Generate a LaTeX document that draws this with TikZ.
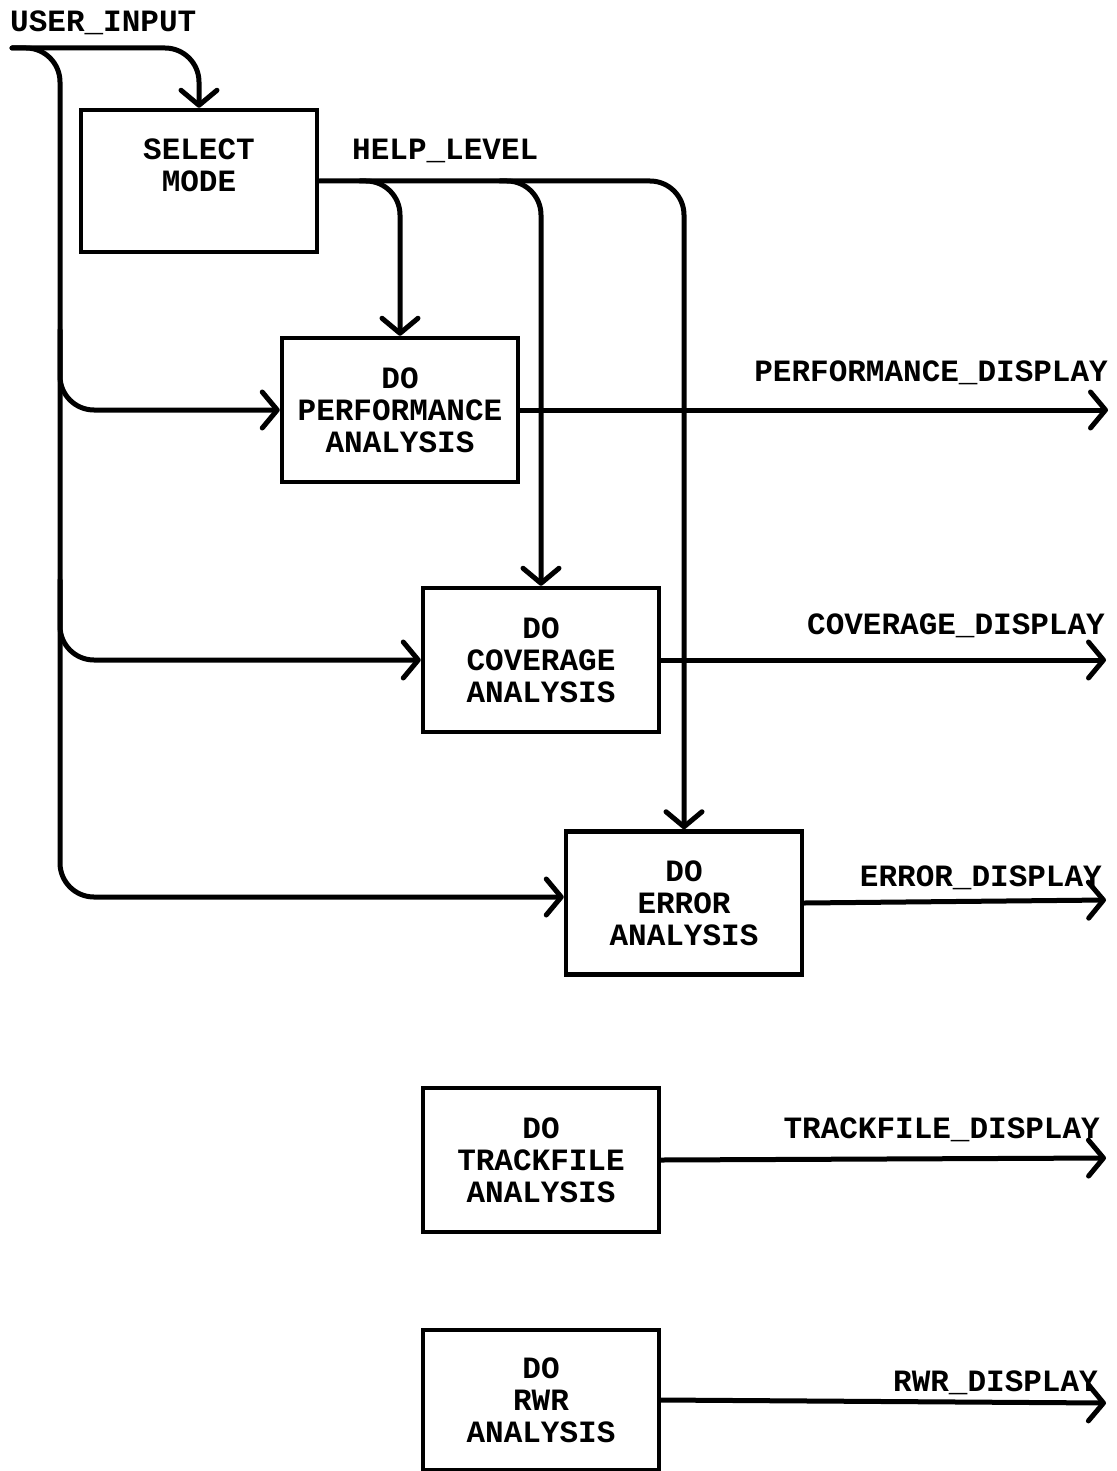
\documentclass[tikz,border=0pt]{standalone}
\usepackage{fontspec}
\setmonofont{Liberation Mono}
\usetikzlibrary{arrows.meta}
\begin{document}
\begin{tikzpicture}[x=1pt,y=-1pt,
  every node/.style={font=\ttfamily\bfseries\fontsize{31}{32}\selectfont},
  box/.style={draw, line width=4.5pt, minimum width=236pt, align=center, inner sep=0pt},
  flow/.style={line width=5pt, line cap=round, rounded corners=34pt,
     -{Straight Barb[length=15pt,width=36pt,line width=5pt,round]}},
  wire/.style={line width=5pt, line cap=round, rounded corners=34pt},
  lbl/.style={inner sep=0pt}]
\useasboundingbox (0,0) rectangle (1116,1471);

% boxes
\node[box, minimum height=142pt] (sel)  at (199,181)  {SELECT\\MODE\\\mbox{}};
\node[box, minimum height=144pt] (perf) at (400,410)  {DO\\PERFORMANCE\\ANALYSIS};
\node[box, minimum height=144pt] (cov)  at (541,660)  {DO\\COVERAGE\\ANALYSIS};
\node[box, minimum height=143pt] (err)  at (684,903)  {DO\\ERROR\\ANALYSIS};
\node[box, minimum height=144pt] (trk)  at (541,1160) {DO\\TRACKFILE\\ANALYSIS};
\node[box, minimum height=140pt] (rwr)  at (541,1400) {DO\\RWR\\ANALYSIS};

% labels
\node[lbl, anchor=base west] (luin) at (10,32)  {USER\_INPUT};
\node[lbl, anchor=base west] (lhelp) at (352,160) {HELP\_LEVEL};
\node[lbl, anchor=base east] (lperf) at (1108,381) {PERFORMANCE\_DISPLAY};
\node[lbl, anchor=base east] (lcov)  at (1105,634) {COVERAGE\_DISPLAY};
\node[lbl, anchor=base east] (lerr)  at (1102,886) {ERROR\_DISPLAY};
\node[lbl, anchor=base east] (ltrk)  at (1100,1138) {TRACKFILE\_DISPLAY};
\node[lbl, anchor=base east] (lrwr)  at (1098,1391) {RWR\_DISPLAY};

% coordinates
\coordinate (uin) at (12,48);
\coordinate (t1) at (60,330);
\coordinate (t2) at (60,580);
\coordinate (h1) at (360,181);
\coordinate (h2) at (500,181);
\coordinate (operf) at (1108,410);
\coordinate (ocov) at (1106,660);
\coordinate (oerr) at (1106,900);
\coordinate (otrk) at (1106,1158);
\coordinate (orwr) at (1106,1403);

% user input
\draw[flow] (uin) -| (sel.north);
\draw[flow] (uin) -| (60,897) -- (err.west |- 0,897);
\draw[flow] (t1) |- (perf.west);
\draw[flow] (t2) |- (cov.west);

% help level
\draw[flow] (sel.east) -| (err.north);
\draw[flow] (h1) -| (perf.north);
\draw[flow] (h2) -| (cov.north);

% outputs
\draw[flow] (perf.east) -- (operf);
\draw[flow] (cov.east) -- (ocov);
\draw[flow] (err.east) -- (oerr);
\draw[flow] (trk.east) -- (otrk);
\draw[flow] (rwr.east) -- (orwr);
\end{tikzpicture}
\end{document}
